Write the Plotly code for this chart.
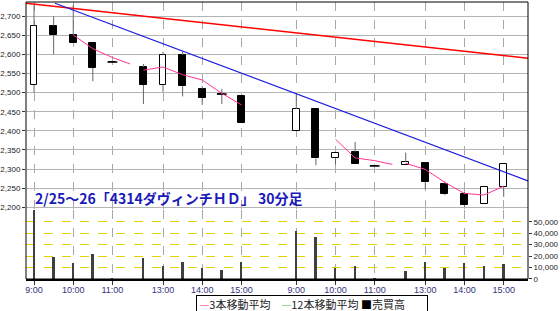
import plotly.graph_objects as go

# ---------------- data ----------------
bar_times = ["9:00", "9:30", "10:00", "10:30", "11:00", "12:30",
             "13:00", "13:30", "14:00", "14:30", "15:00"]
day_index = [0] * 11 + [1] * 11
times = bar_times * 2

open_ = [2520, 2675, 2650, 2630, 2580, 2567, 2520, 2598, 2510, 2496, 2490,
         2400, 2457, 2328, 2345, 2308, 2310, 2317, 2261, 2234, 2208, 2252]
high_ = [2730, 2700, 2730, 2630, 2580, 2575, 2607, 2607, 2517, 2510, 2490,
         2496, 2457, 2343, 2371, 2308, 2343, 2318, 2267, 2241, 2254, 2313]
low_ = [2500, 2600, 2630, 2530, 2580, 2470, 2502, 2490, 2468, 2470, 2420,
        2400, 2310, 2312, 2313, 2308, 2310, 2247, 2232, 2201, 2208, 2227]
close_ = [2675, 2650, 2630, 2565, 2580, 2520, 2598, 2517, 2485, 2496, 2420,
          2457, 2328, 2343, 2313, 2308, 2318, 2265, 2235, 2205, 2254, 2313]
volume = [60000, 19000, 14000, 21500, 500, 18500, 11500, 15000, 9700, 7800, 14700,
          41500, 37000, 9500, 11500, 500, 7200, 15000, 10000, 14000, 11200, 13500]

# 3-bar moving average as drawn (None = break in the line)
ma3_times = ["10:00", "10:30", "11:00", "11:30", None, "12:30", "13:00", "13:30",
             "14:00", "14:30", "15:00"]
ma3_day1 = [2651, 2615, 2592, 2575, None, 2559, 2567, 2547, 2533, 2498, 2468]
ma3_day2 = [2378, 2329, 2322, 2312, None, 2315, 2299, 2265, 2236, 2232, 2255]

# trend lines (price at start and right edge of chart)
red_trend = [2734, 2590]
blue_trend = [2734, 2269]

tick_labels = ["9:00", "10:00", "11:00", "13:00", "14:00", "15:00"]
volume_ticks = [0, 10000, 20000, 30000, 40000, 50000]

# ---------------- time scale ----------------
SLOT = {"9:00": 0, "9:30": 1, "10:00": 2, "10:30": 3, "11:00": 4, "11:30": 4.9,
        "12:30": 5.58, "13:00": 6.58, "13:30": 7.58, "14:00": 8.58,
        "14:30": 9.58, "15:00": 10.58}
DAY_SHIFT = 13.38
X_MIN, X_MAX = -0.41, 25.2


def xpos(t, d):
    return SLOT[t] + d * DAY_SHIFT


xs = [xpos(t, d) for t, d in zip(times, day_index)]

# bodies
body_base = [min(o, c) for o, c in zip(open_, close_)]
body_h = [abs(c - o) for o, c in zip(open_, close_)]
body_fill = ["white" if c >= o else "black" for o, c in zip(open_, close_)]

# wicks
wx, wy = [], []
for x, o, h, l, c in zip(xs, open_, high_, low_, close_):
    top, bot = max(o, c), min(o, c)
    if h > top:
        wx += [x, x, None]
        wy += [top, h, None]
    if l < bot:
        wx += [x, x, None]
        wy += [l, bot, None]

doji_x = [x for x, o, c in zip(xs, open_, close_) if o == c]
doji_y = [c for o, c in zip(open_, close_) if o == c]

ma_x, ma_y = [], []
for d, vals in enumerate([ma3_day1, ma3_day2]):
    for t, v in zip(ma3_times, vals):
        ma_x.append(xpos(t, d) if t is not None else None)
        ma_y.append(v)
    ma_x.append(None)
    ma_y.append(None)

tickvals = [xpos(t, d) for d in (0, 1) for t in tick_labels]
ticktext = tick_labels * 2

fig = go.Figure()

fig.add_trace(go.Bar(x=xs, y=body_h, base=body_base, width=0.35,
                     marker=dict(color=body_fill, line=dict(color="black", width=1)),
                     xaxis="x", yaxis="y", showlegend=False))
fig.add_trace(go.Scatter(x=wx, y=wy, mode="lines", line=dict(color="#666666", width=1),
                         xaxis="x", yaxis="y", showlegend=False, connectgaps=False))
fig.add_trace(go.Scatter(x=doji_x, y=doji_y, mode="markers",
                         marker=dict(symbol="line-ew", size=7,
                                     line=dict(color="black", width=1.5)),
                         xaxis="x", yaxis="y", showlegend=False))
fig.add_trace(go.Scatter(x=ma_x, y=ma_y, mode="lines", line=dict(color="#ff3399", width=1),
                         xaxis="x", yaxis="y", showlegend=False, connectgaps=False))
fig.add_trace(go.Scatter(x=[X_MIN, X_MAX], y=red_trend, mode="lines",
                         line=dict(color="#ff0000", width=1.5),
                         xaxis="x", yaxis="y", showlegend=False))
fig.add_trace(go.Scatter(x=[xpos("9:30", 0) + 0.07, X_MAX], y=blue_trend, mode="lines",
                         line=dict(color="#1a1add", width=1.2),
                         xaxis="x", yaxis="y", showlegend=False))

fig.add_trace(go.Bar(x=xs, y=volume, width=0.1, marker=dict(color="#404040", line=dict(width=0)),
                     xaxis="x2", yaxis="y2", showlegend=False))

vol_split = 0.249
FONT = "Liberation Sans, Arial, sans-serif"
axis_font = dict(family=FONT, size=8, color="#222222")

fig.update_layout(
    width=560, height=311,
    margin=dict(l=26, r=32, t=2, b=32, autoexpand=False),
    paper_bgcolor="white", plot_bgcolor="white",
    barmode="overlay",
    bargap=0,
    xaxis=dict(anchor="y", domain=[0, 1], range=[X_MIN, X_MAX], automargin=False,
               tickvals=tickvals, showticklabels=False, ticks="",
               showgrid=True, gridcolor="#a8a8a8", griddash="dash", gridwidth=1,
               zeroline=False),
    xaxis2=dict(anchor="y2", domain=[0, 1], matches="x", range=[X_MIN, X_MAX],
                automargin=False,
                tickvals=tickvals, ticktext=ticktext,
                tickfont=dict(family=FONT, size=9, color="#33337f"),
                ticks="outside", ticklen=4, tickcolor="#333333",
                ticklabelstandoff=-3,
                showgrid=True, gridcolor="#a8a8a8", griddash="dash", gridwidth=1,
                showline=True, linecolor="black", linewidth=2, zeroline=False),
    yaxis=dict(domain=[vol_split, 1], range=[2192.7, 2737.2], dtick=50, tick0=2200,
               automargin=False,
               tickformat=",", tickfont=axis_font,
               ticks="outside", ticklen=3, tickcolor="#333333",
               showgrid=True, gridcolor="#b4b4b4", gridwidth=1, zeroline=False,
               showline=False),
    yaxis2=dict(domain=[0, vol_split], range=[0, 60200], tickvals=volume_ticks,
                side="right", anchor="x2", automargin=False,
                tickformat=",", tickfont=axis_font,
                ticks="outside", ticklen=3, tickcolor="#333333",
                showgrid=True, gridcolor="#e6d200", griddash="dash", gridwidth=1,
                zeroline=False, showline=False),
    shapes=[dict(type="rect", xref="paper", yref="paper", x0=0, x1=1, y0=0, y1=1,
                 line=dict(color="black", width=1), fillcolor="rgba(0,0,0,0)",
                 layer="above")],
    annotations=[
        dict(xref="paper", yref="paper", x=0.014, y=0.2924, xanchor="left", yanchor="middle",
             text="<b>2/25～26「4314ダヴィンチＨＤ」 30分足</b>", showarrow=False,
             font=dict(family="Noto Sans CJK JP", size=14, color="#1a1ab8")),
        dict(xref="paper", yref="paper", x=0.5697, y=-0.058, xanchor="center", yanchor="top",
             text=" <span style='color:#ff66aa'>—</span>3本移動平均　"
                  "<span style='color:#88cc88'>—</span>12本移動平均 "
                  "<span style='color:black'>■</span>売買高　　",
             showarrow=False, bordercolor="black", borderwidth=1, bgcolor="white",
             borderpad=0,
             font=dict(family="Noto Sans CJK JP", size=11, color="#222222")),
    ],
)

fig.write_html("out.html")
